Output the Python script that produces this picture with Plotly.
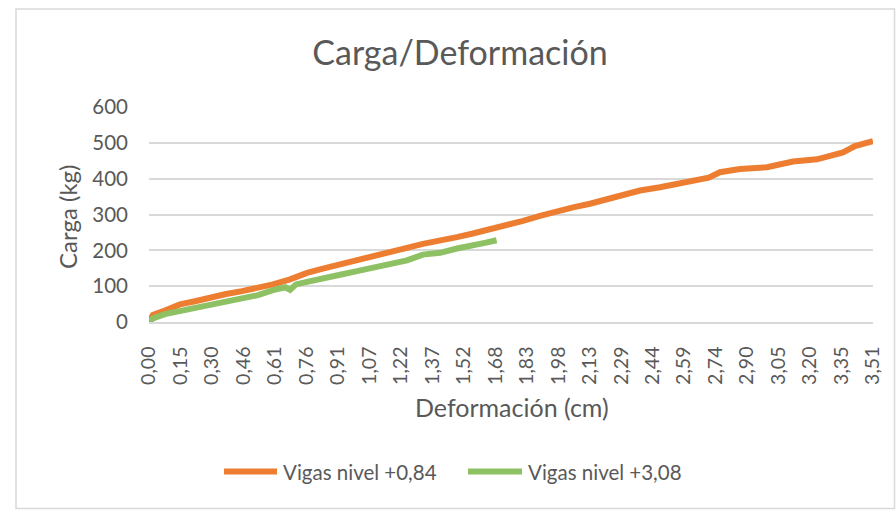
import plotly.graph_objects as go

# Load/deflection readings
viga_084_def = [0.000, 0.019, 0.077, 0.150, 0.223, 0.300, 0.373, 0.450, 0.528, 0.600,
                0.683, 0.765, 0.842, 0.925, 1.007, 1.084, 1.167, 1.249, 1.326, 1.409,
                1.491, 1.568, 1.651, 1.733, 1.811, 1.893, 1.975, 2.053, 2.135, 2.256,
                2.377, 2.474, 2.556, 2.682, 2.710, 2.764, 2.861, 2.992, 3.118, 3.234,
                3.311, 3.360, 3.418, 3.505]
viga_084_carga = [0, 20, 32, 49, 58, 69, 78, 86, 95, 105,
                  119, 137, 149, 160, 172, 182, 193, 207, 218, 226,
                  237, 247, 258, 270, 282, 296, 310, 320, 330, 349,
                  367, 376, 384, 398, 403, 418, 427, 432, 448, 454,
                  463, 473, 491, 505]

viga_308_def = [0.000, 0.019, 0.077, 0.150, 0.223, 0.300, 0.373, 0.450, 0.528, 0.600,
                0.660, 0.683, 0.712, 0.765, 0.842, 0.925, 1.007, 1.084, 1.167, 1.249,
                1.326, 1.409, 1.491, 1.568, 1.620, 1.683]
viga_308_carga = [0, 10, 22, 30, 40, 49, 57, 66, 75, 89,
                  97, 90, 105, 112, 123, 132, 142, 152, 163, 172,
                  188, 193, 205, 212, 220, 228]

series_names = ["Vigas nivel +0,84", "Vigas nivel +3,08"]

tick_labels = ["0,00", "0,15", "0,30", "0,46", "0,61", "0,76", "0,91", "1,07",
               "1,22", "1,37", "1,52", "1,68", "1,83", "1,98", "2,13", "2,29",
               "2,44", "2,59", "2,74", "2,90", "3,05", "3,20", "3,35", "3,51"]
tick_step = 0.1524  # 0.06 in expressed in cm

ORANGE = "#ED7D31"
GREEN = "#8DC163"
TEXT = "#595959"
GRID = "#D9D9D9"
FONT = "Lato"

W, H = 896, 510
ML, MR, MT, MB = 149, 23, 107, 188
PW, PH = W - ML - MR, H - MT - MB


def px_x(px):
    return (px - ML) / PW


def px_y(py):
    return (H - MB - py) / PH


fig = go.Figure()
fig.add_trace(go.Scatter(x=viga_084_def, y=viga_084_carga, mode="lines",
                         name=series_names[0], showlegend=False,
                         line=dict(color=ORANGE, width=6)))
fig.add_trace(go.Scatter(x=viga_308_def, y=viga_308_carga, mode="lines",
                         name=series_names[1], showlegend=False,
                         line=dict(color=GREEN, width=6)))

tick_vals = [i * tick_step for i in range(len(tick_labels))]

fig.update_layout(
    width=W, height=H,
    margin=dict(l=ML, r=MR, t=MT, b=MB),
    paper_bgcolor="white", plot_bgcolor="white",
    font=dict(family=FONT, color=TEXT),
    title=dict(text="Carga/Deformación", x=px_x(460), xref="paper", xanchor="center",
               y=1 - 53 / H, yref="container", yanchor="middle",
               font=dict(size=34, color=TEXT, family=FONT)),
    xaxis=dict(range=[0, tick_vals[-1]], tickmode="array", tickvals=tick_vals,
               ticktext=tick_labels, tickangle=-90, showgrid=False,
               showline=True, linecolor=GRID, linewidth=1.5, ticks="",
               ticklabelstandoff=15, tickfont=dict(size=19.5, color=TEXT),
               zeroline=False),
    yaxis=dict(range=[0, 600], tickmode="array", tickvals=[0, 100, 200, 300, 400, 500, 600],
               ticktext=["0", "100", "200", "300", "400", "500", "600"],
               showgrid=True, gridcolor=GRID, gridwidth=1.5, zeroline=False,
               showline=False, ticks="", ticklabelstandoff=20,
               tickfont=dict(size=20.5, color=TEXT)),
)

annotations = [
    dict(text="Deformación (cm)", x=px_x(512), y=px_y(407), xref="paper", yref="paper",
         showarrow=False, xanchor="center", yanchor="middle",
         font=dict(size=25, color=TEXT, family=FONT)),
    dict(text="Carga (kg)", x=px_x(67), y=px_y(217), xref="paper", yref="paper",
         showarrow=False, xanchor="center", yanchor="middle", textangle=-90,
         font=dict(size=24, color=TEXT, family=FONT)),
]

shapes = [
    # chart frame
    dict(type="rect", xref="paper", yref="paper", x0=px_x(16), x1=px_x(894.5),
         y0=px_y(508.5), y1=px_y(9), line=dict(color=GRID, width=1.5), layer="below"),
]

# legend drawn as line samples with labels
legend_items = [(series_names[0], ORANGE, 224, 277, 281),
                (series_names[1], GREEN, 468, 522, 526)]
ly = 471.5
for name, color, x0, x1, tx in legend_items:
    shapes.append(dict(type="line", xref="paper", yref="paper",
                       x0=px_x(x0), x1=px_x(x1), y0=px_y(ly), y1=px_y(ly),
                       line=dict(color=color, width=6)))
    annotations.append(dict(text=name, x=px_x(tx), y=px_y(ly), xref="paper", yref="paper",
                            showarrow=False, xanchor="left", yanchor="middle",
                            font=dict(size=20.5, color=TEXT, family=FONT)))

fig.update_layout(annotations=annotations, shapes=shapes)

fig.write_html("out.html")
